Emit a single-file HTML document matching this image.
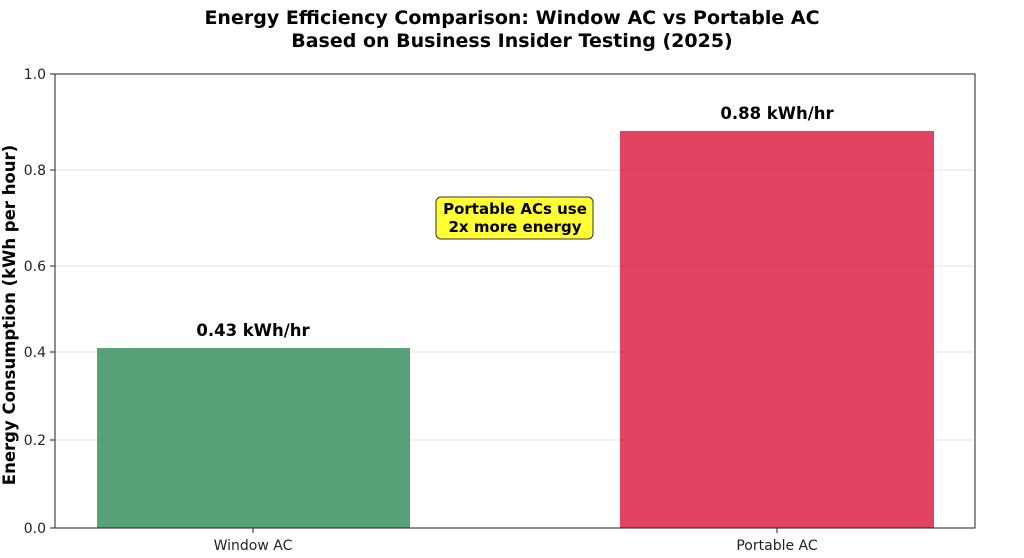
<!DOCTYPE html>
<html><head><meta charset="utf-8"><style>
html,body{margin:0;padding:0;background:#fff;}
body{width:1024px;height:553px;overflow:hidden;}
</style></head><body>
<svg width="1024" height="553" xmlns="http://www.w3.org/2000/svg" font-family="'DejaVu Sans','Liberation Sans',sans-serif">
<text x="512" y="24" text-anchor="middle" font-size="19" font-weight="bold" fill="#000">Energy Efficiency Comparison: Window AC vs Portable AC</text>
<text x="512" y="47" text-anchor="middle" font-size="19" font-weight="bold" fill="#000">Based on Business Insider Testing (2025)</text>
<g stroke="#e4e4e4" stroke-width="1">
<line x1="55" x2="975" y1="170" y2="170"/>
<line x1="55" x2="975" y1="266" y2="266"/>
<line x1="55" x2="975" y1="352" y2="352"/>
<line x1="55" x2="975" y1="440" y2="440"/>
</g>
<rect x="97" y="348" width="313" height="180" fill="#2e8b57" fill-opacity="0.8"/>
<rect x="620" y="131" width="314" height="397" fill="#dc143c" fill-opacity="0.8"/>
<rect x="55" y="74" width="920" height="454" fill="none" stroke="#222" stroke-width="1"/>
<g stroke="#222" stroke-width="1">
<line x1="50" x2="55" y1="74" y2="74"/><line x1="50" x2="55" y1="170" y2="170"/>
<line x1="50" x2="55" y1="266" y2="266"/><line x1="50" x2="55" y1="352" y2="352"/>
<line x1="50" x2="55" y1="440" y2="440"/><line x1="50" x2="55" y1="528" y2="528"/>
<line x1="253" x2="253" y1="528" y2="533"/><line x1="777" x2="777" y1="528" y2="533"/>
</g>
<g font-size="14" fill="#222" text-anchor="end">
<text x="46" y="79">1.0</text><text x="46" y="175">0.8</text><text x="46" y="271">0.6</text>
<text x="46" y="357">0.4</text><text x="46" y="445">0.2</text><text x="46" y="533">0.0</text>
</g>
<g font-size="14" fill="#222" text-anchor="middle">
<text x="253" y="550">Window AC</text><text x="777" y="550">Portable AC</text>
</g>
<text transform="translate(15,315) rotate(-90)" text-anchor="middle" font-size="16.5" font-weight="bold" fill="#000">Energy Consumption (kWh per hour)</text>
<text x="253" y="336" text-anchor="middle" font-size="16.5" font-weight="bold" fill="#000">0.43 kWh/hr</text>
<text x="777" y="119" text-anchor="middle" font-size="16.5" font-weight="bold" fill="#000">0.88 kWh/hr</text>
<rect x="436" y="197" width="157" height="42" rx="5" fill="#ffff33" stroke="#333" stroke-width="1"/>
<text x="515" y="214" text-anchor="middle" font-size="15" font-weight="bold" fill="#000">Portable ACs use</text>
<text x="515" y="232" text-anchor="middle" font-size="15" font-weight="bold" fill="#000">2x more energy</text>
</svg>
</body></html>
